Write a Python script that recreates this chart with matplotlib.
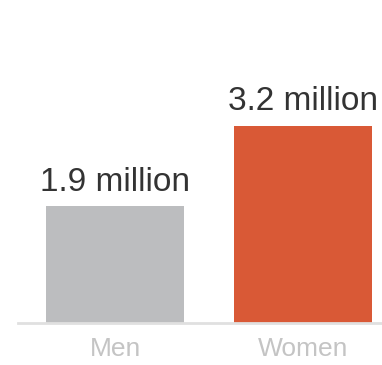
import matplotlib.pyplot as plt

groups = ["Men", "Women"]
values = [1.9, 3.2]
labels = ["1.9 million", "3.2 million"]
colors = ["#bcbdbf", "#d95936"]


def main():
    plt.rcParams["font.family"] = ["Liberation Sans", "DejaVu Sans"]

    fig = plt.figure(figsize=(3.82, 3.65), dpi=100)
    ax = fig.add_axes([18 / 382, 42 / 365, 364 / 382, 323 / 365])

    x = range(len(groups))
    bars = ax.bar(x, values, width=0.734, color=colors)

    for bar, text in zip(bars, labels):
        ax.annotate(text, (bar.get_x() + bar.get_width() / 2, bar.get_height()),
                    xytext=(0, 6), textcoords="offset points",
                    ha="center", va="bottom", fontsize=24, color="#333333")

    ax.set_xlim(-0.516, 1.42)
    ax.set_ylim(0, 5.24)
    ax.set_xticks(list(x))
    ax.set_xticklabels(groups, fontsize=19, color="#c4c4c4")
    ax.tick_params(axis="x", length=0, pad=10)
    ax.set_yticks([])

    for side in ["left", "right", "top"]:
        ax.spines[side].set_visible(False)
    ax.spines["bottom"].set_color("#e0e0e0")
    ax.spines["bottom"].set_linewidth(2)

    fig.savefig("out.png", dpi=100)


if __name__ == "__main__":
    main()
